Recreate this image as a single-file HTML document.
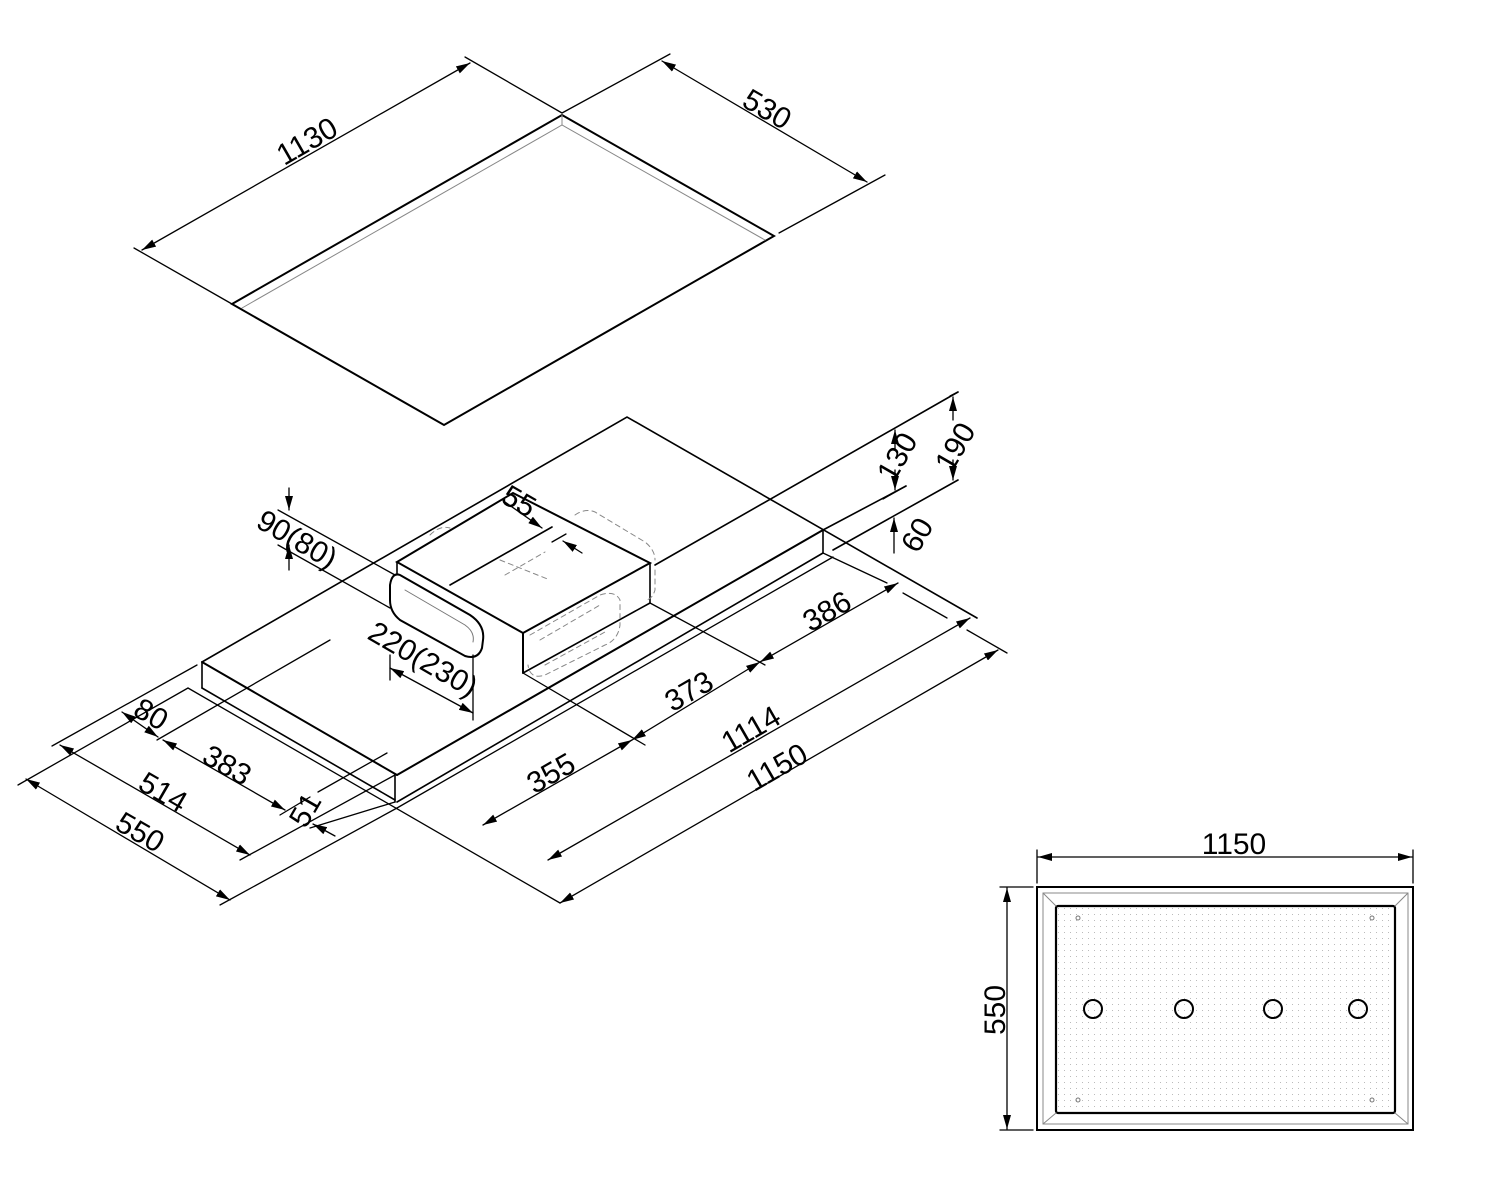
<!DOCTYPE html>
<html><head><meta charset="utf-8"><style>
html,body{margin:0;padding:0;background:#fff;}
svg{display:block}
text{font-family:"Liberation Sans",sans-serif;font-size:30px;fill:#000}
</style></head><body>
<svg width="1500" height="1200" viewBox="0 0 1500 1200" xmlns="http://www.w3.org/2000/svg">
<defs>
<marker id="a" viewBox="0 0 14 8" refX="14" refY="4" markerWidth="14" markerHeight="8" markerUnits="userSpaceOnUse" orient="auto-start-reverse"><path d="M0,0 L14,4 L0,8 z" fill="#000"/></marker>
<pattern id="dots" width="6" height="6" patternUnits="userSpaceOnUse"><rect x="2" y="2" width="1" height="1" fill="#bbb"/></pattern>
</defs>
<g stroke="#000" stroke-width="1.6" fill="none" stroke-linecap="round">
<path d="M562,115 L774,236 L444,425 L232,304 Z" stroke-width="2"/>
<path d="M242,308 L562,125 L765,240" stroke="#888" stroke-width="1"/>
<line x1="562" y1="115" x2="562" y2="125" stroke="#888" stroke-width="1"/>
<line x1="232" y1="304" x2="134" y2="248" stroke-width="1.3"/>
<line x1="562" y1="113" x2="465" y2="57" stroke-width="1.3"/>
<line x1="142" y1="250" x2="470" y2="63" stroke-width="1.3" marker-start="url(#a)" marker-end="url(#a)"/>
<line x1="562" y1="113" x2="670" y2="54" stroke-width="1.3"/>
<line x1="779" y1="233" x2="885" y2="175" stroke-width="1.3"/>
<line x1="662" y1="61" x2="867" y2="182" stroke-width="1.3" marker-start="url(#a)" marker-end="url(#a)"/>

<path d="M202,662 L627,417 L977,618" stroke-width="1.6"/>
<line x1="958" y1="392" x2="655" y2="565"/>
<line x1="906" y1="486" x2="823" y2="530"/>
<line x1="958" y1="480" x2="833" y2="550"/>
<line x1="823" y1="530" x2="823" y2="553"/>
<line x1="823" y1="530" x2="397" y2="775" stroke-width="2"/>
<line x1="823" y1="553" x2="397" y2="802"/>
<line x1="833" y1="557" x2="397" y2="808" stroke-width="1.3"/>
<line x1="202" y1="662" x2="397" y2="775" stroke-width="2"/>
<line x1="202" y1="662" x2="202" y2="688"/>
<line x1="202" y1="688" x2="395" y2="800"/>
<line x1="188" y1="688" x2="560" y2="903" stroke-width="1.3"/>
<line x1="395" y1="775" x2="395" y2="802"/>
<line x1="823" y1="553" x2="887" y2="583" stroke-width="1.3"/>
<line x1="903" y1="593" x2="947" y2="618" stroke-width="1.3"/>
<line x1="967" y1="630" x2="1007" y2="653" stroke-width="1.3"/>

<path d="M397,562 L513,493 L650,563 L523,633 Z" fill="#fff" stroke-width="2"/>
<line x1="450" y1="585" x2="552" y2="527"/>
<line x1="523" y1="633" x2="523" y2="673" stroke-width="2"/>
<line x1="650" y1="563" x2="650" y2="603"/>
<line x1="523" y1="673" x2="650" y2="603"/>
<line x1="397" y1="562" x2="397" y2="575"/>
<path d="M400,575 L470,615 Q485,625 483,640 L482,648 Q478,660 465,656 L400,620 Q390,612 390,600 L390,585 Q392,572 400,575 Z" stroke-width="2" fill="#fff"/>
<path d="M405,590 L465,625 Q475,632 473,642" stroke="#777" stroke-width="1"/>
<g stroke="#888" stroke-width="1" stroke-dasharray="5,4">
<path d="M530,635 L600,595 Q615,590 620,600 L620,625 Q618,640 605,645 L545,675 Q530,680 528,665"/>
<path d="M540,640 L600,605 M545,665 L605,632"/>
<path d="M575,515 Q585,508 595,512 L645,542 Q655,550 655,560 M655,570 L655,590 Q652,600 645,600"/>
<line x1="500" y1="560" x2="550" y2="580"/><line x1="505" y1="575" x2="545" y2="552"/>
<path d="M430,535 Q440,525 450,528"/>
</g>

<line x1="278" y1="510" x2="395" y2="575" stroke-width="1.3"/>
<line x1="278" y1="545" x2="390" y2="608" stroke-width="1.3"/>
<line x1="289" y1="488" x2="289" y2="510" stroke-width="1.3" marker-end="url(#a)"/>
<line x1="289" y1="570" x2="289" y2="545" stroke-width="1.3" marker-end="url(#a)"/>
<line x1="505" y1="502" x2="542" y2="528" stroke-width="1.3" marker-end="url(#a)"/>
<line x1="582" y1="553" x2="563" y2="541" stroke-width="1.3" marker-end="url(#a)"/>
<line x1="552" y1="542" x2="566" y2="534" stroke-width="1.3"/>
<line x1="390" y1="655" x2="390" y2="680" stroke-width="1.3"/>
<line x1="473" y1="655" x2="473" y2="720" stroke-width="1.3"/>
<line x1="390" y1="668" x2="473" y2="713" stroke-width="1.3" marker-start="url(#a)" marker-end="url(#a)"/>

<line x1="906" y1="486" x2="883" y2="499" stroke-width="1.3"/>
<line x1="895" y1="450" x2="895" y2="430" stroke-width="1.3" marker-end="url(#a)"/>
<line x1="895" y1="470" x2="895" y2="490" stroke-width="1.3" marker-end="url(#a)"/>
<line x1="958" y1="392" x2="950" y2="396" stroke-width="1.3"/>
<line x1="953" y1="420" x2="953" y2="397" stroke-width="1.3" marker-end="url(#a)"/>
<line x1="953" y1="460" x2="953" y2="480" stroke-width="1.3" marker-end="url(#a)"/>
<line x1="894" y1="553" x2="894" y2="518" stroke-width="1.3" marker-end="url(#a)"/>

<line x1="18" y1="785" x2="188" y2="688" stroke-width="1.3"/>
<line x1="52" y1="746" x2="197" y2="665" stroke-width="1.3"/>
<line x1="157" y1="740" x2="330" y2="640" stroke-width="1.3"/>
<line x1="26" y1="779" x2="230" y2="900" stroke-width="1.3" marker-start="url(#a)" marker-end="url(#a)"/>
<line x1="60" y1="745" x2="250" y2="855" stroke-width="1.3" marker-start="url(#a)" marker-end="url(#a)"/>
<line x1="163" y1="740" x2="285" y2="810" stroke-width="1.3" marker-start="url(#a)" marker-end="url(#a)"/>
<line x1="122" y1="712" x2="158" y2="737" stroke-width="1.3" marker-start="url(#a)" marker-end="url(#a)"/>
<line x1="220" y1="905" x2="397" y2="808" stroke-width="1.3"/>
<line x1="240" y1="860" x2="395" y2="775" stroke-width="1.3"/>
<line x1="280" y1="815" x2="310" y2="797" stroke-width="1.3"/>
<line x1="318" y1="792" x2="387" y2="753" stroke-width="1.3"/>
<line x1="335" y1="836" x2="313" y2="824" stroke-width="1.3" marker-end="url(#a)"/>
<line x1="310" y1="828" x2="395" y2="802" stroke-width="1.3"/>

<line x1="523" y1="673" x2="645" y2="745" stroke-width="1.3"/>
<line x1="650" y1="603" x2="765" y2="665" stroke-width="1.3"/>
<line x1="483" y1="825" x2="632" y2="740" stroke-width="1.3" marker-start="url(#a)" marker-end="url(#a)"/>
<line x1="632" y1="740" x2="760" y2="662" stroke-width="1.3" marker-start="url(#a)" marker-end="url(#a)"/>
<line x1="760" y1="662" x2="898" y2="583" stroke-width="1.3" marker-start="url(#a)" marker-end="url(#a)"/>
<line x1="548" y1="860" x2="970" y2="618" stroke-width="1.3" marker-start="url(#a)" marker-end="url(#a)"/>
<line x1="560" y1="903" x2="998" y2="650" stroke-width="1.3" marker-start="url(#a)" marker-end="url(#a)"/>

<rect x="1037" y="887" width="376" height="243" stroke-width="2"/>
<rect x="1043" y="893" width="365" height="231" stroke="#888" stroke-width="1"/>
<rect x="1056" y="906" width="339" height="207" fill="url(#dots)" stroke-width="2.2" rx="2"/>
<g stroke="#888" stroke-width="1"><line x1="1043" y1="893" x2="1056" y2="906"/><line x1="1408" y1="893" x2="1395" y2="906"/><line x1="1043" y1="1124" x2="1056" y2="1113"/><line x1="1408" y1="1124" x2="1395" y2="1113"/></g>
<g stroke-width="2"><circle cx="1093" cy="1009" r="9"/><circle cx="1184" cy="1009" r="9"/><circle cx="1273" cy="1009" r="9"/><circle cx="1358" cy="1009" r="9"/></g>
<g stroke="#777" stroke-width="1"><circle cx="1078" cy="918" r="2"/><circle cx="1372" cy="918" r="2"/><circle cx="1078" cy="1100" r="2"/><circle cx="1372" cy="1100" r="2"/></g>
<line x1="1037" y1="850" x2="1037" y2="883" stroke-width="1.3"/>
<line x1="1413" y1="850" x2="1413" y2="883" stroke-width="1.3"/>
<line x1="1038" y1="857" x2="1412" y2="857" stroke-width="1.3" marker-start="url(#a)" marker-end="url(#a)"/>
<line x1="1000" y1="887" x2="1033" y2="887" stroke-width="1.3"/>
<line x1="1000" y1="1130" x2="1033" y2="1130" stroke-width="1.3"/>
<line x1="1007" y1="888" x2="1007" y2="1129" stroke-width="1.3" marker-start="url(#a)" marker-end="url(#a)"/>
</g>

<text x="1234" y="854" text-anchor="middle">1150</text>
<text transform="translate(1005,1010) rotate(-90)" text-anchor="middle">550</text>
<text transform="translate(312,150) rotate(-30)" text-anchor="middle">1130</text>
<text transform="translate(762,118) rotate(30)" text-anchor="middle">530</text>
<text transform="translate(292,548) rotate(30)" text-anchor="middle">90(80)</text>
<text transform="translate(514,510) rotate(30)" text-anchor="middle">55</text>
<text transform="translate(418,668) rotate(30)" text-anchor="middle">220(230)</text>
<text transform="translate(906,462) rotate(-60)" text-anchor="middle">130</text>
<text transform="translate(964,452) rotate(-60)" text-anchor="middle">190</text>
<text transform="translate(926,540) rotate(-60)" text-anchor="middle">60</text>
<text transform="translate(146,723) rotate(30)" text-anchor="middle">80</text>
<text transform="translate(222,774) rotate(30)" text-anchor="middle">383</text>
<text transform="translate(158,801) rotate(30)" text-anchor="middle">514</text>
<text transform="translate(135,841) rotate(30)" text-anchor="middle">550</text>
<text transform="translate(314,815) rotate(-60)" text-anchor="middle">51</text>
<text transform="translate(556,782) rotate(-30)" text-anchor="middle">355</text>
<text transform="translate(694,700) rotate(-30)" text-anchor="middle">373</text>
<text transform="translate(832,620) rotate(-30)" text-anchor="middle">386</text>
<text transform="translate(756,738) rotate(-30)" text-anchor="middle">1114</text>
<text transform="translate(782,776) rotate(-30)" text-anchor="middle">1150</text>
</svg>
</body></html>
